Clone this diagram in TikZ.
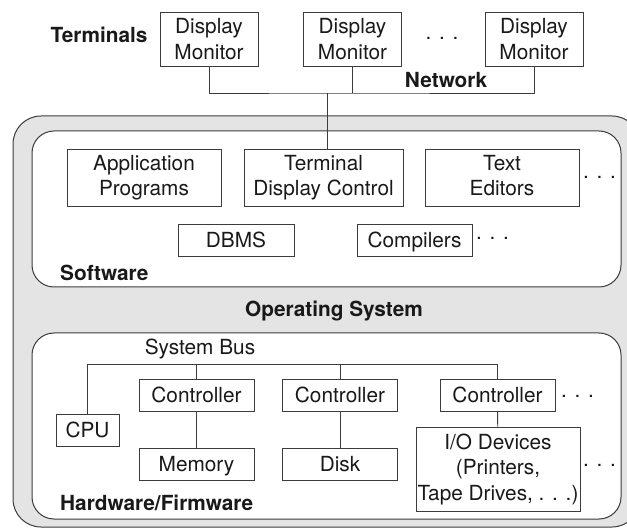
\documentclass[tikz,border=0pt]{standalone}
\usepackage{fontspec}
\setmainfont{TeX Gyre Heros}
\definecolor{osgray}{RGB}{228,228,228}
\definecolor{inkgray}{RGB}{60,60,60}
\newcommand{\figfont}{\fontsize{20.8}{25.5}\selectfont}
\tikzset{
    box/.style={draw=inkgray, line width=0.9pt, align=center, inner sep=0pt, text=black!90},
    oneline/.style={box, text height=15pt, text depth=0pt},
    monbox/.style={box, minimum width=98pt, minimum height=54pt},
    ctlbox/.style={oneline, minimum width=115pt, minimum height=32pt},
    layer/.style={draw=inkgray, line width=1pt},
    title/.style={font=\figfont\bfseries, text=black!90, inner sep=0pt},
    more/.style={anchor=base, inner sep=0pt, text=black!90},
    wire/.style={draw=inkgray, line width=0.9pt}
}
\begin{document}
\begin{tikzpicture}[x=1pt, y=-1pt, font=\figfont]
        \useasboundingbox (0,0) rectangle (627,529);
        % Operating system and its two layers
        \draw[layer, fill=osgray, rounded corners=28pt] (13,116) rectangle (640,527);
        \draw[layer, fill=white, rounded corners=22pt] (32,131) rectangle (621,287);
        \draw[layer, fill=white, rounded corners=22pt] (32,333) rectangle (621,519);

        % Terminals
        \node[title] (terms) at (99,35) {Terminals};
        \foreach \n/\x in {1/209, 2/352.5, 3/534} {
            \node[monbox] (mon\n) at (\x,39) {Display\\Monitor};
        }
        \node[more] (dotsTop) at (442,39.5) {. . .};
        \node[title] (netlbl) at (446,80) {Network};
        \coordinate (net) at (327,93);

        % Software
        \node[box, minimum width=154pt, minimum height=57pt] (app) at (144,177.5) {Application\\Programs};
        \node[box, minimum width=159pt, minimum height=57pt] (tdc) at (323.5,177.5) {Terminal\\Display Control};
        \node[box, minimum width=154pt, minimum height=57pt] (edit) at (502,177.5) {Text\\Editors\vphantom{g}};
        \node[more] (dotsSw) at (599.5,178.5) {. . .};
        \node[oneline, minimum width=116pt, minimum height=32pt] (dbms) at (236,240) {DBMS};
        \node[oneline, minimum width=115pt, minimum height=32pt] (comp) at (414.5,240) {Compilers};
        \node[more] (dotsComp) at (492.5,239.5) {. . .};
        \node[title, anchor=west] (swlbl) at (60,273) {Software};

        \node[title] (oslbl) at (334,311) {Operating System};

        % Hardware
        \node[inner sep=0pt, text=black!90] (buslbl) at (200,349) {System Bus};
        \coordinate (bus) at (497.5,364);
        \node[oneline, minimum width=63pt, minimum height=32pt] (cpu) at (87.5,430) {CPU};
        \foreach \n/\x in {1/196.5, 2/340, 3/497.5} {
            \node[ctlbox] (ctl\n) at (\x,395) {Controller};
        }
        \node[ctlbox] (mem) at (196.5,464) {Memory};
        \node[ctlbox] (disk) at (340,464) {Disk};
        \node[box, minimum width=164pt, minimum height=84pt] (io) at (498,469) {I/O Devices\\(Printers,\\Tape Drives, . . .)};
        \node[more] (dotsCtl) at (577.5,397.5) {. . .};
        \node[more] (dotsIo) at (599.5,466.5) {. . .};
        \node[title, anchor=west] (hwlbl) at (60,503) {Hardware/Firmware};

        % Connections
        \draw[wire] (mon1.south) |- (net) -| (mon3.south);
        \draw[wire] (mon2.south) -- (mon2.south |- net);
        \draw[wire] (net) -- (net |- tdc.north);
        \draw[wire] (cpu.north) |- (bus) -- (ctl3.north);
        \foreach \n in {1,2} {
            \draw[wire] (ctl\n.north) -- (ctl\n.north |- bus);
        }
        \draw[wire] (ctl1) -- (mem);
        \draw[wire] (ctl2) -- (disk);
        \draw[wire] (ctl3) -- (io);
    \end{tikzpicture}
\end{document}
